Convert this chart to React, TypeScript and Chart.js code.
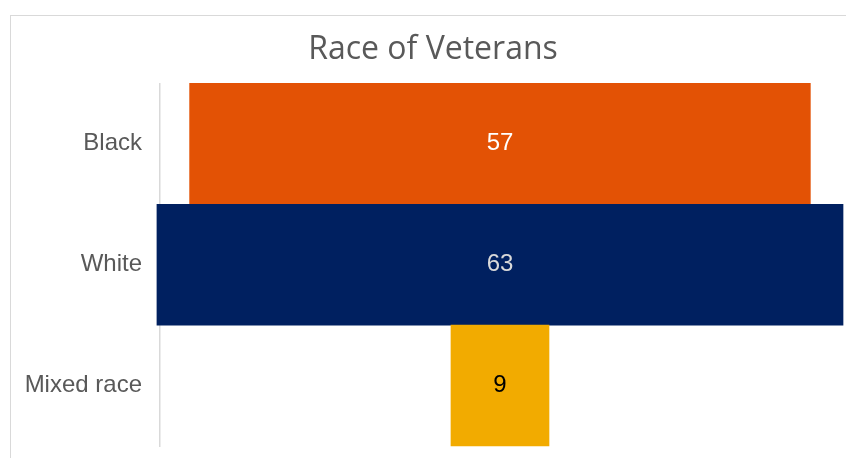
import React, { useEffect, useRef } from "react";
import { Chart, registerables } from "chart.js";

Chart.register(...registerables);

const title = "Race of Veterans";
const categories = ["Black", "White", "Mixed race"];
const values = [57, 63, 9];
const barColors = ["#E35205", "#002060", "#F2AB00"];
const valueLabelColors = ["#FFFFFF", "#D9D9D9", "#000000"];

export default function App() {
  const ref = useRef<HTMLCanvasElement | null>(null);

  useEffect(() => {
    const canvas = ref.current;
    if (!canvas) return;

    const valueLabels = {
      id: "valueLabels",
      afterDatasetsDraw(chart: any) {
        const ctx = chart.ctx;
        const meta = chart.getDatasetMeta(0);
        ctx.save();
        ctx.font = "24px 'Liberation Sans', Arial, sans-serif";
        ctx.textAlign = "center";
        ctx.textBaseline = "middle";
        meta.data.forEach((el: any, i: number) => {
          const p = el.getCenterPoint();
          ctx.fillStyle = valueLabelColors[i];
          ctx.fillText(String(values[i]), p.x, p.y);
        });
        ctx.restore();
      },
    };

    const chart = new Chart(canvas, {
      type: "bar",
      data: {
        labels: categories,
        datasets: [
          {
            data: values.map((v) => [-v / 2, v / 2]) as any,
            backgroundColor: barColors,
            barPercentage: 1,
            categoryPercentage: 1,
            borderWidth: 0,
            clip: false as any,
          },
        ],
      },
      options: {
        indexAxis: "y",
        responsive: false,
        animation: false,
        events: [],
        layout: { padding: { left: 0, right: 0, top: 0, bottom: 28 } },
        plugins: {
          legend: { display: false },
          tooltip: { enabled: false },
          title: {
            display: true,
            text: title,
            color: "#595959",
            font: { family: "'Open Sans', sans-serif", size: 32, weight: "normal" as any },
            padding: { top: 15, bottom: 14 },
          },
        },
        scales: {
          x: {
            display: false,
            min: -31.22,
            max: 32.6,
          },
          y: {
            z: 1,
            grid: { display: false, drawTicks: false },
            border: { display: true, color: "#D9D9D9", width: 1.5 },
            ticks: {
              color: "#595959",
              padding: 18,
              font: { family: "'Liberation Sans', Arial, sans-serif", size: 24 },
            },
            afterFit: (scale: any) => {
              scale.width = 149;
              scale.paddingTop = 0;
              scale.paddingBottom = 0;
            },
          },
        },
      },
      plugins: [valueLabels],
    });

    return () => chart.destroy();
  }, []);

  return (
    <div
      style={{
        position: "fixed",
        left: 0,
        top: 0,
        width: 846,
        height: 458,
        overflow: "hidden",
        background: "#FFFFFF",
      }}
    >
      <div
        style={{
          position: "absolute",
          left: 10,
          top: 15,
          width: 846,
          height: 470,
          border: "1px solid #D9D9D9",
          boxSizing: "border-box",
        }}
      >
        <canvas ref={ref} width={844} height={458} style={{ display: "block", width: 844, height: 458 }} />
      </div>
    </div>
  );
}
